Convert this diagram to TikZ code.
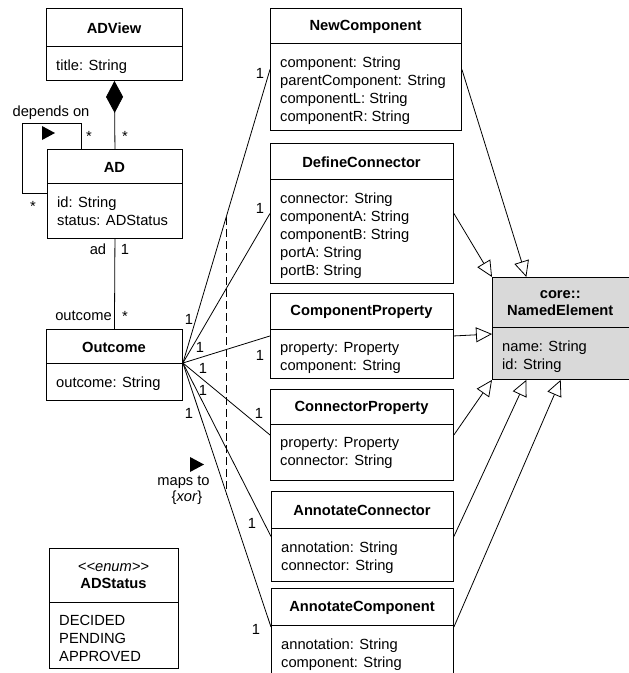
\documentclass[tikz,border=0pt]{standalone}
\usepackage{fontspec}
\setmainfont{Liberation Sans}
\usetikzlibrary{arrows.meta,calc}

\tikzset{
  classbox/.style={draw, line width=0.9pt, inner sep=0pt, fill=white},
  titletext/.style={font=\fontsize{14.7}{17}\selectfont\bfseries, align=center, inner sep=0pt},
  bodytext/.style={font=\fontsize{14.7}{18}\selectfont, align=left, inner sep=0pt, anchor=north west},
  lbl/.style={font=\fontsize{14.7}{17}\selectfont, inner sep=0pt, align=center},
  link/.style={line width=0.8pt},
  gen/.style={line width=0.8pt, -{Triangle[open, length=16pt, width=15pt, fill=white]}},
  marker/.style={fill=black},
}

% UML class: [box style]{name}{x}{y}{width}{header height}{total height}{title}{attributes}
\newcommand{\umlclass}[9][]{%
  \node[classbox, #1, minimum width=#5pt, minimum height=#7pt, anchor=north west] (#2) at (#3,#4) {};
  \draw[line width=0.9pt] ([yshift=-#6pt]#2.north west) -- ([yshift=-#6pt]#2.north east);
  \node[titletext] (#2-t) at ({#3+#5/2},{#4+#6/2+1}) {#8};
  \node[bodytext] (#2-b) at ({#3+10},{#4+#6+13.5}) {#9};
}

\begin{document}
\begin{tikzpicture}[x=1pt, y=-1pt]
\useasboundingbox (0,0) rectangle (629,673);
\clip (0,0) rectangle (629,673);

% classes
\umlclass{adview}{46}{8}{136}{38}{72}{ADView}{title: String}
\umlclass{ad}{47}{149}{135}{34}{89}{AD}{id: String\\status: ADStatus}
\umlclass{outcome}{46}{329}{136}{34}{71}{Outcome}{outcome: String}
\umlclass{adstatus}{49}{548}{129}{54}{120}{{\mdseries\itshape <\kern0pt<enum>\kern0pt>}\\ADStatus}{DECIDED\\PENDING\\APPROVED}

\umlclass{newcomp}{270}{8}{191}{35}{122}{NewComponent}{component: String\\parentComponent: String\\componentL: String\\componentR: String}
\umlclass{defconn}{270}{143}{183}{36}{140}{DefineConnector}{connector: String\\componentA: String\\componentB: String\\portA: String\\portB: String}
\umlclass{compprop}{270}{293}{183}{36}{85}{ComponentProperty}{property: Property\\component: String}
\umlclass{connprop}{270}{389}{183}{35}{91}{ConnectorProperty}{property: Property\\connector: String}
\umlclass{annconn}{271}{491}{182}{37}{90}{AnnotateConnector}{annotation: String\\connector: String}
\umlclass{anncomp}{271}{588}{182}{37}{100}{AnnotateComponent}{annotation: String\\component: String}
\umlclass[fill={rgb,255:red,217;green,217;blue,217}]{named}{492}{277}{136.5}{50}{102}{core::\\NamedElement}{name: String\\id: String}

% composition ADView <>-- AD
\draw[link, {Diamond[length=32pt, width=17pt]}-] (adview.south) -- (ad.north);
\node[lbl] (m-comp) at (125,136) {*};

% reflexive association "depends on"
\draw[link] ([yshift=-44pt]ad.north west) -- ++(-25,0) -- ++(0,-70) -- ++(59,0) -- ([xshift=34pt]ad.north west);
\fill[marker] (42,126) -- (55,133) -- (42,140) -- cycle;
\node[lbl] (dep) at (51,113) {depends on};
\node[lbl] (m-dep1) at (89,136) {*};
\node[lbl] (m-dep2) at (33,206) {*};

% AD -- Outcome
\draw[link] (ad.south) -- (outcome.north);
\node[lbl] (r-ad) at (98,249) {ad};
\node[lbl] (m-ad) at (125,249) {1};
\node[lbl] (r-oc) at (83.5,316) {outcome};
\node[lbl] (m-oc) at (125,316) {*};

% Outcome -- actions
\coordinate (oport) at ([yshift=-34pt]outcome.north east);
\draw[link] (oport) -- (newcomp.west);
\draw[link] (oport) -- (defconn.west);
\draw[link] (oport) -- (compprop.west);
\draw[link] (oport) -- (connprop.west);
\draw[link] (oport) -- (annconn.west);
\draw[link] (oport) -- ([yshift=-39pt]anncomp.north west);

\node[lbl] (o1) at (189,319) {1};
\node[lbl] (o2) at (200,347) {1};
\node[lbl] (o3) at (203,368) {1};
\node[lbl] (o4) at (203,390) {1};
\node[lbl] (o5) at (189,413) {1};

\node[lbl] (t1) at (260,73) {1};
\node[lbl] (t2) at (260,208) {1};
\node[lbl] (t3) at (260,355) {1};
\node[lbl] (t4) at (259,413) {1};
\node[lbl] (t5) at (252,523) {1};
\node[lbl] (t6) at (256,629) {1};

% xor constraint
\coordinate (xa) at (226,217);
\coordinate (xb) at (226,495);
\draw[link, dash pattern=on 8pt off 4pt] (xa) -- (xb);
\fill[marker] (190,457) -- (204,464.5) -- (190,472) -- cycle;
\node[lbl] (maps) at (183.5,482) {maps to};
\node[lbl] (xor) at (187,498) {\{\textit{xor}\}};

% generalizations to core::NamedElement
\draw[gen] (newcomp.east) -- ($(named.north west)!0.25!(named.north east)$);
\draw[gen] (defconn.east) -- (named.north west);
\draw[gen] (compprop.east) -- ([yshift=-57pt]named.north west);
\draw[gen] (connprop.east) -- (named.south west);
\draw[gen] (annconn.east) -- ($(named.south west)!0.25!(named.south east)$);
\draw[gen] ([yshift=-39pt]anncomp.north east) -- (named.south);
\end{tikzpicture}
\end{document}
